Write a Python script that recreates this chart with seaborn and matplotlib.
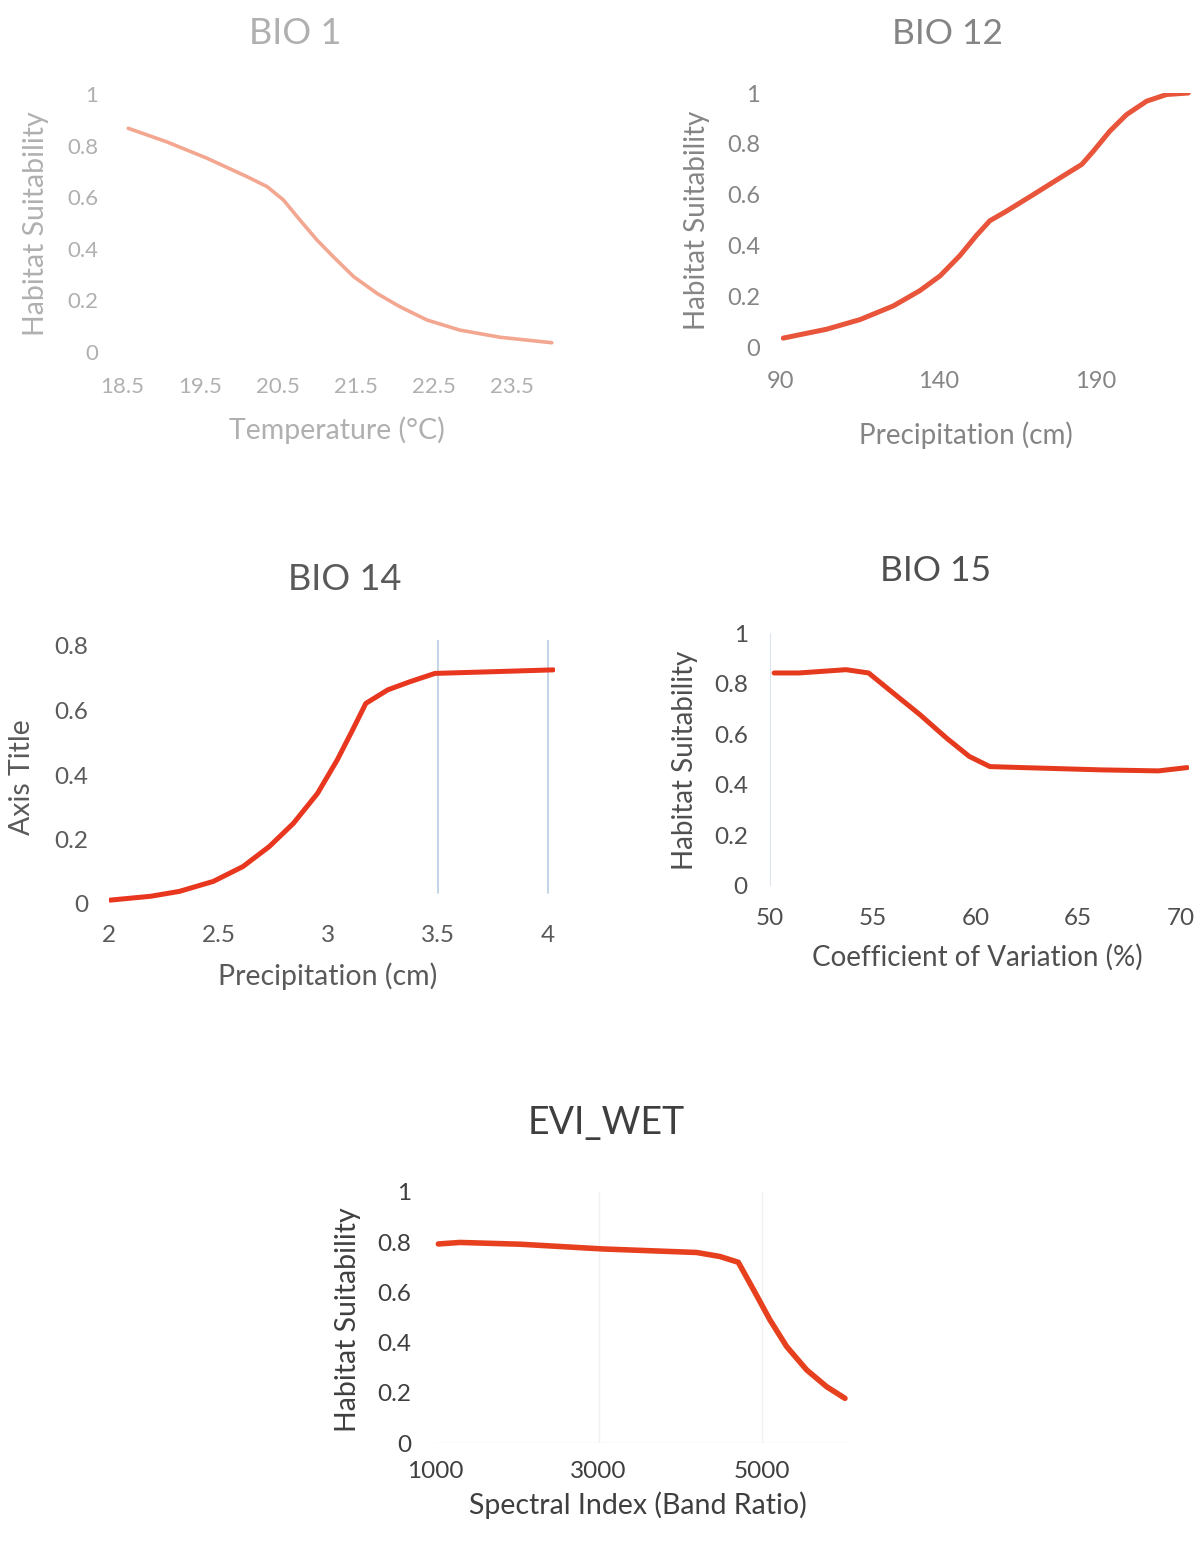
import numpy as np
import pandas as pd
from matplotlib import pyplot as plt
import seaborn as sns

# BIO 1 - temperature response
bio1_x = [18.58, 19.07, 19.59, 20.10, 20.36, 20.57, 20.78, 21.0, 21.21, 21.47, 21.77, 22.06, 22.41,
          22.83, 23.35, 24.01]
bio1_y = [0.867, 0.815, 0.751, 0.680, 0.641, 0.589, 0.512, 0.434, 0.369, 0.292, 0.227, 0.176, 0.124,
          0.085, 0.057, 0.036]

# BIO 12 - annual precipitation
bio12_x = [90.7, 104.5, 115.1, 125.7, 134.1, 140.5, 146.8, 152.1, 156.3, 161.6, 170.1, 178.6, 185.5,
           189.1, 194.4, 199.7, 206.1, 212.4, 219.3]
bio12_y = [0.035, 0.07, 0.108, 0.162, 0.222, 0.28, 0.36, 0.44, 0.497, 0.535, 0.6, 0.666, 0.719,
           0.77, 0.85, 0.915, 0.968, 0.994, 1.0]

# BIO 14 - precipitation of driest month
bio14_x = [2.005, 2.19, 2.32, 2.475, 2.61, 2.73, 2.84, 2.95, 3.04, 3.11, 3.17, 3.27, 3.37, 3.485,
           3.735, 4.024]
bio14_y = [0.012, 0.024, 0.039, 0.07, 0.116, 0.178, 0.25, 0.343, 0.447, 0.54, 0.622, 0.664, 0.689,
           0.715, 0.72, 0.726]

# BIO 15 - precipitation seasonality
bio15_x = [50.2, 51.4, 53.7, 54.8, 55.9, 57.3, 58.6, 59.7, 60.7, 62.3, 66.1, 68.9, 70.3]
bio15_y = [0.842, 0.842, 0.855, 0.842, 0.769, 0.677, 0.584, 0.512, 0.472, 0.468, 0.459, 0.455, 0.468]

# EVI_WET - spectral index
evi_x = [1041, 1306, 2040, 3059, 4201, 4486, 4710, 4894, 5098, 5302, 5547, 5792, 6015]
evi_y = [0.793, 0.799, 0.792, 0.773, 0.759, 0.743, 0.72, 0.612, 0.49, 0.384, 0.291, 0.224, 0.178]

W, H = 1202, 1544

sns.set_theme(style='white')
plt.rcParams['font.family'] = ['Lato', 'DejaVu Sans']
plt.rcParams['lines.solid_joinstyle'] = 'round'
plt.rcParams['lines.solid_capstyle'] = 'round'

fig = plt.figure(figsize=(W / 100, H / 100), dpi=100)

# layout: pixel position of xlim[0], pixels per x unit, pixel of y=0, pixels per y unit
panels = [
    dict(name='BIO 1', x=bio1_x, y=bio1_y, xlim=(18.5, 24.05), x0=122, sx=78.0,
         ylim=(0, 1), y0=352, sy=258, xticks=[18.5, 19.5, 20.5, 21.5, 22.5, 23.5],
         yticks=[0, 0.2, 0.4, 0.6, 0.8, 1], xlabel='Temperature (°C)', ylabel='Habitat Suitability',
         title_xy=(295, 33), xlab_xy=(337, 430), ylab_xy=(36, 224),
         line='#f3a690', text='#b0b0b0', lw=2.6, fs_t=26, fs_l=20.5, fs_k=16, padx=18, pady=17),
    dict(name='BIO 12', x=bio12_x, y=bio12_y, xlim=(90, 220.5), x0=781, sx=3.15,
         ylim=(0, 1), y0=347, sy=254, xticks=[90, 140, 190],
         yticks=[0, 0.2, 0.4, 0.6, 0.8, 1], xlabel='Precipitation (cm)', ylabel='Habitat Suitability',
         title_xy=(947, 34), xlab_xy=(966, 435), ylab_xy=(697, 220),
         line='#e8553a', text='#858585', lw=3.6, fs_t=25.5, fs_l=20, fs_k=17, padx=17, pady=15),
    dict(name='BIO 14', x=bio14_x, y=bio14_y, xlim=(2, 4.03), x0=109, sx=219.5,
         ylim=(0, 0.82), y0=904, sy=322.5, xticks=[2, 2.5, 3, 3.5, 4],
         yticks=[0, 0.2, 0.4, 0.6, 0.8], xlabel='Precipitation (cm)', ylabel='Axis Title',
         title_xy=(345, 579), xlab_xy=(328, 976), ylab_xy=(22, 777),
         line='#e8361f', text='#5a5a5a', lw=3.6, fs_t=26, fs_l=20.5, fs_k=17.5, padx=15, pady=15),
    dict(name='BIO 15', x=bio15_x, y=bio15_y, xlim=(50, 70.4), x0=770, sx=20.55,
         ylim=(0, 1), y0=886, sy=253, xticks=[50, 55, 60, 65, 70],
         yticks=[0, 0.2, 0.4, 0.6, 0.8, 1], xlabel='Coefficient of Variation (%)',
         ylabel='Habitat Suitability',
         title_xy=(936, 571), xlab_xy=(977, 957), ylab_xy=(685, 760),
         line='#e63a1f', text='#4f4f4f', lw=3.6, fs_t=25.5, fs_l=20, fs_k=17.5, padx=16, pady=16),
    dict(name='EVI_WET', x=evi_x, y=evi_y, xlim=(1000, 6050), x0=435, sx=0.08175,
         ylim=(0, 1), y0=1443, sy=251, xticks=[1000, 3000, 5000],
         yticks=[0, 0.2, 0.4, 0.6, 0.8, 1], xlabel='Spectral Index (Band Ratio)',
         ylabel='Habitat Suitability',
         title_xy=(606, 1123), xlab_xy=(638, 1505), ylab_xy=(348, 1320),
         line='#e6401f', text='#3f3f3f', lw=4.0, fs_t=27, fs_l=20.5, fs_k=17.5, padx=13, pady=17),
]

for p in panels:
    left = p['x0']
    width = (p['xlim'][1] - p['xlim'][0]) * p['sx']
    height = (p['ylim'][1] - p['ylim'][0]) * p['sy']
    bottom = p['y0']
    ax = fig.add_axes([left / W, (H - bottom) / H, width / W, height / H])
    df = pd.DataFrame({'x': p['x'], 'y': p['y']})
    sns.lineplot(data=df, x='x', y='y', ax=ax, color=p['line'], lw=p['lw'],
                 sort=False, estimator=None)
    ax.set_xlim(*p['xlim'])
    ax.set_ylim(*p['ylim'])
    ax.set_xticks(p['xticks'])
    ax.set_yticks(p['yticks'])
    ax.set_xticklabels([f'{v:g}' for v in p['xticks']])
    ax.set_yticklabels([f'{v:g}' for v in p['yticks']])
    ax.tick_params(length=0, labelsize=p['fs_k'], colors=p['text'])
    ax.tick_params(axis='x', pad=p['padx'])
    ax.tick_params(axis='y', pad=p['pady'])
    ax.set_xlabel('')
    ax.set_ylabel('')
    sns.despine(ax=ax, left=True, bottom=True)
    ax.patch.set_alpha(0)

    fig.text(p['title_xy'][0] / W, 1 - p['title_xy'][1] / H, p['name'], ha='center', va='center',
             fontsize=p['fs_t'], color=p['text'])
    fig.text(p['xlab_xy'][0] / W, 1 - p['xlab_xy'][1] / H, p['xlabel'], ha='center', va='center',
             fontsize=p['fs_l'], color=p['text'])
    fig.text(p['ylab_xy'][0] / W, 1 - p['ylab_xy'][1] / H, p['ylabel'], ha='center', va='center',
             rotation=90, fontsize=p['fs_l'], color=p['text'])

    if p['name'] == 'BIO 14':
        for xv in [3.5, 4]:
            ax.axvline(xv, ymin=0.04, ymax=1.0, color='#b9cde4', lw=1.2, zorder=0)
    if p['name'] == 'BIO 15':
        ax.axvline(50, color='#d3dde8', lw=1.2, zorder=0)
    if p['name'] == 'EVI_WET':
        for xv in [3000, 5000]:
            ax.axvline(xv, color='#f1f1f1', lw=1.0, zorder=0)
        ax.axhline(0, color='#eeeeee', lw=1.0, zorder=0)

fig.savefig('out.png', dpi=100, facecolor='white')
